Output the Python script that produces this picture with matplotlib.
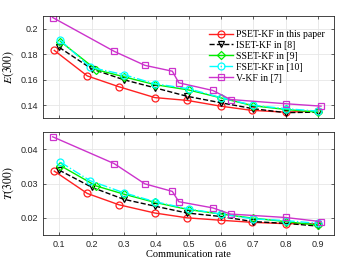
import numpy as np
import matplotlib.pyplot as plt

plt.rcParams['mathtext.fontset'] = 'stix'

# Communication rate positions (points are slightly shifted per method)
x_pset = [0.085, 0.187, 0.285, 0.396, 0.496, 0.599, 0.695, 0.80, 0.90]
x_iset = [0.10, 0.201, 0.30, 0.396, 0.496, 0.599, 0.70, 0.80, 0.90]
x_sset = [0.104, 0.214, 0.30, 0.396, 0.50, 0.60, 0.70, 0.80, 0.90]
x_fset = [0.104, 0.196, 0.30, 0.396, 0.50, 0.60, 0.70, 0.80, 0.90]
x_vkf = [0.08, 0.27, 0.365, 0.45, 0.47, 0.575, 0.63, 0.80, 0.91]

# E(300)
e_pset = [0.183, 0.163, 0.1545, 0.146, 0.1438, 0.1393, 0.136, 0.1346, 0.1354]
e_iset = [0.1854, 0.1685, 0.160, 0.1537, 0.147, 0.142, 0.1373, 0.1342, 0.1346]
e_sset = [0.190, 0.168, 0.1623, 0.1562, 0.152, 0.1458, 0.1396, 0.1367, 0.1346]
e_fset = [0.1909, 0.1698, 0.164, 0.1568, 0.153, 0.146, 0.140, 0.1373, 0.1354]
e_vkf = [0.2088, 0.1823, 0.1713, 0.1667, 0.1576, 0.1516, 0.1445, 0.1412, 0.1393]

# T(300)
t_pset = [0.0336, 0.0271, 0.0238, 0.0214, 0.0200, 0.0193, 0.0187, 0.0183, 0.0183]
t_iset = [0.0339, 0.0289, 0.0254, 0.0234, 0.0214, 0.0204, 0.0189, 0.0184, 0.0176]
t_sset = [0.0352, 0.0293, 0.0269, 0.0245, 0.0224, 0.0211, 0.0199, 0.0189, 0.0179]
t_fset = [0.0362, 0.0308, 0.0273, 0.0247, 0.0226, 0.0211, 0.0197, 0.0192, 0.0184]
t_vkf = [0.0436, 0.0358, 0.0299, 0.0277, 0.0247, 0.0229, 0.0211, 0.0201, 0.0189]

labels = ["PSET-KF in this paper", "ISET-KF in [8]", "SSET-KF in [9]",
          "FSET-KF in [10]", "V-KF in [7]"]

styles = [
    dict(color="#ff2020", ls="-", marker="o"),
    dict(color="black", ls="--", marker="v"),
    dict(color="#00ee00", ls="-", marker="D", ms=4),
    dict(color="cyan", ls="-.", marker="o"),
    dict(color="#cc33cc", ls="-", marker="s"),
]

fig = plt.figure(figsize=(3.51, 2.64), dpi=100)
ax1 = fig.add_axes([43 / 351, 1 - 118 / 264, 291 / 351, 102 / 264])
ax2 = fig.add_axes([43 / 351, 1 - 235 / 264, 291 / 351, 103 / 264])

xs = [x_pset, x_iset, x_sset, x_fset, x_vkf]
es = [e_pset, e_iset, e_sset, e_fset, e_vkf]
ts = [t_pset, t_iset, t_sset, t_fset, t_vkf]

for ax, ys in [(ax1, es), (ax2, ts)]:
    for x, y, st, lab in zip(xs, ys, styles, labels):
        st = dict(st)
        ms = st.pop("ms", 5)
        ax.plot(x, y, lw=1.0, ms=ms, mfc="none", mew=0.9, label=lab, **st)
    ax.set_xlim(0.05, 0.95)
    ax.set_xticks(np.arange(0.1, 0.95, 0.1))
    ax.grid(True, color="#e6e6e6", lw=0.6)
    ax.set_axisbelow(True)
    ax.tick_params(direction="in", labelsize=6.5, length=2.5, width=0.5,
                   right=True, top=True, colors="#262626")
    for lbl in ax.get_xticklabels() + ax.get_yticklabels():
        lbl.set_family("Liberation Sans")
    for s in ax.spines.values():
        s.set_linewidth(0.6)
        s.set_color("#262626")

ax1.set_ylim(0.13, 0.21)
ax1.set_yticks([0.14, 0.16, 0.18, 0.2])
ax1.set_yticklabels(["0.14", "0.16", "0.18", "0.2"], family="Liberation Sans")
ax1.set_xticklabels([])
ax1.set_ylabel("$E(300)$", fontsize=8.5, labelpad=3)

ax2.set_ylim(0.015, 0.045)
ax2.set_yticks([0.02, 0.03, 0.04])
ax2.set_yticklabels(["0.02", "0.03", "0.04"], family="Liberation Sans")
ax2.set_xticklabels(["0.1", "0.2", "0.3", "0.4", "0.5", "0.6", "0.7", "0.8", "0.9"],
                    family="Liberation Sans")
ax2.set_ylabel("$T(300)$", fontsize=8.5, labelpad=3)
ax2.set_xlabel("Communication rate", fontsize=7.5, family="Liberation Serif")
ax2.xaxis.labelpad = 1

ax1.legend(loc="upper right", frameon=False, handlelength=2.4,
           prop={"family": "Liberation Serif", "size": 7},
           borderaxespad=0.3, labelspacing=0.2, handletextpad=0.3,
           bbox_to_anchor=(0.99, 0.93))

fig.savefig("out.png", dpi=100)
